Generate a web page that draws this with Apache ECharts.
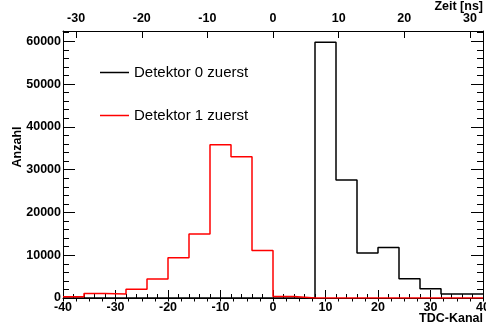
<!DOCTYPE html>
<html>
<head>
<meta charset="utf-8">
<script src="https://cdn.jsdelivr.net/npm/echarts@6/dist/echarts.min.js"></script>
<style>html,body{margin:0;padding:0;background:#fff}#c{width:486px;height:330px}</style>
</head>
<body>
<div id="c"></div>
<script>
// Histogram bins (left edge of each TDC channel bin, width 4)
const binLeft = [-40,-36,-32,-28,-24,-20,-16,-12,-8,-4,0,4,8,12,16,20,24,28,32,36];
const binRight = 40;
const det0 = [0,0,0,0,0,0,0,0,0,0,0,0,59800,27600,10500,11800,4500,2170,930,930];
const det1 = [300,1070,930,2050,4450,9400,14950,35800,33000,11100,350,0,0,0,0,0,0,0,0,0];
const topTicks = [-30,-20,-10,0,10,20,30];
const topMinor = [-32,-30,-28,-26,-24,-22,-20,-18,-16,-14,-12,-10,-8,-6,-4,-2,0,2,4,6,8,10,12,14,16,18,20,22,24,26,28,30,32];
const seriesNames = ['Detektor 0 zuerst','Detektor 1 zuerst'];

function stepData(vals){
  const d = binLeft.map((x,i)=>[x, vals[i]]);
  d.push([binRight, vals[vals.length-1]]);
  return d;
}

const FONT = '"Liberation Sans", Arial, sans-serif';
const lblStyle = {fontFamily: FONT, fontWeight: 'bold', fontSize: 12.5, color: '#000'};

const chart = echarts.init(document.getElementById('c'), null, {renderer:'canvas'});
chart.setOption({
  animation: false,
  backgroundColor: '#fff',
  grid: {left: 63, right: 3, top: 31, bottom: 32, containLabel: false, outerBoundsMode: 'none'},
  xAxis: [
    {type:'value', position:'bottom', min:-40, max:40, interval:10,
     axisLine:{show:true, onZero:false, lineStyle:{color:'#000', width:1}},
     axisTick:{show:true, inside:true, length:8, lineStyle:{color:'#000'}},
     minorTick:{show:true, splitNumber:5, length:4, lineStyle:{color:'#000'}},
     splitLine:{show:false},
     axisLabel:{...lblStyle, margin:3, formatter: v => String(v)}},
    {type:'value', position:'top', min:-32, max:32,
     axisLine:{show:true, onZero:false, lineStyle:{color:'#000', width:1}},
     axisTick:{show:true, inside:true, length:7, customValues: topTicks, lineStyle:{color:'#000'}},
     splitLine:{show:false},
     axisLabel:{...lblStyle, margin:6, customValues: topTicks, formatter: v => String(v)}},
    {type:'value', position:'top', min:-32, max:32,
     axisLine:{show:false},
     axisTick:{show:true, inside:true, length:3.5, customValues: topMinor, lineStyle:{color:'#000'}},
     splitLine:{show:false},
     axisLabel:{show:false}}
  ],
  yAxis: [
    {type:'value', position:'left', min:0, max:62400, interval:10000,
     axisLine:{show:true, onZero:false, lineStyle:{color:'#000', width:1}},
     axisTick:{show:true, inside:true, length:12, lineStyle:{color:'#000'}},
     minorTick:{show:true, splitNumber:5, length:6, lineStyle:{color:'#000'}},
     splitLine:{show:false},
     axisLabel:{...lblStyle, margin:2, showMaxLabel:false, formatter: v => String(v)}},
    {type:'value', position:'right', min:0, max:62400, interval:10000,
     axisLine:{show:true, onZero:false, lineStyle:{color:'#000', width:1}},
     axisTick:{show:true, inside:true, length:12, lineStyle:{color:'#000'}},
     minorTick:{show:true, splitNumber:5, length:6, lineStyle:{color:'#000'}},
     splitLine:{show:false},
     axisLabel:{show:false}}
  ],
  legend: [
    {left: 95, top: 60, itemWidth: 29, itemHeight: 1.5, icon: 'rect', data:[seriesNames[0]],
     textStyle:{fontFamily: FONT, fontSize: 15, color:'#000'}},
    {left: 95, top: 103, itemWidth: 29, itemHeight: 1.5, icon: 'rect', data:[seriesNames[1]],
     textStyle:{fontFamily: FONT, fontSize: 15, color:'#000'}}
  ],
  series: [
    {name: seriesNames[0], type:'line', step:'end', data: stepData(det0), xAxisIndex:0, yAxisIndex:0,
     symbol:'none', color:'#000', lineStyle:{color:'#000', width:1.5}},
    {name: seriesNames[1], type:'line', step:'end', data: stepData(det1), xAxisIndex:0, yAxisIndex:0,
     symbol:'none', color:'#ff0000', lineStyle:{color:'#ff0000', width:1.5}}
  ],
  graphic: [
    {type:'text', right: 3, top: 312, style:{text:'TDC-Kanal', font:'bold 12.5px ' + FONT, fill:'#000'}},
    {type:'text', right: 3, top: 0, style:{text:'Zeit [ns]', font:'bold 12.5px ' + FONT, fill:'#000'}},
    {type:'text', x: 18, y: 147, rotation: Math.PI/2, style:{text:'Anzahl', font:'bold 12.5px ' + FONT, fill:'#000', align:'center', verticalAlign:'middle'}}
  ]
});
</script>
</body>
</html>
